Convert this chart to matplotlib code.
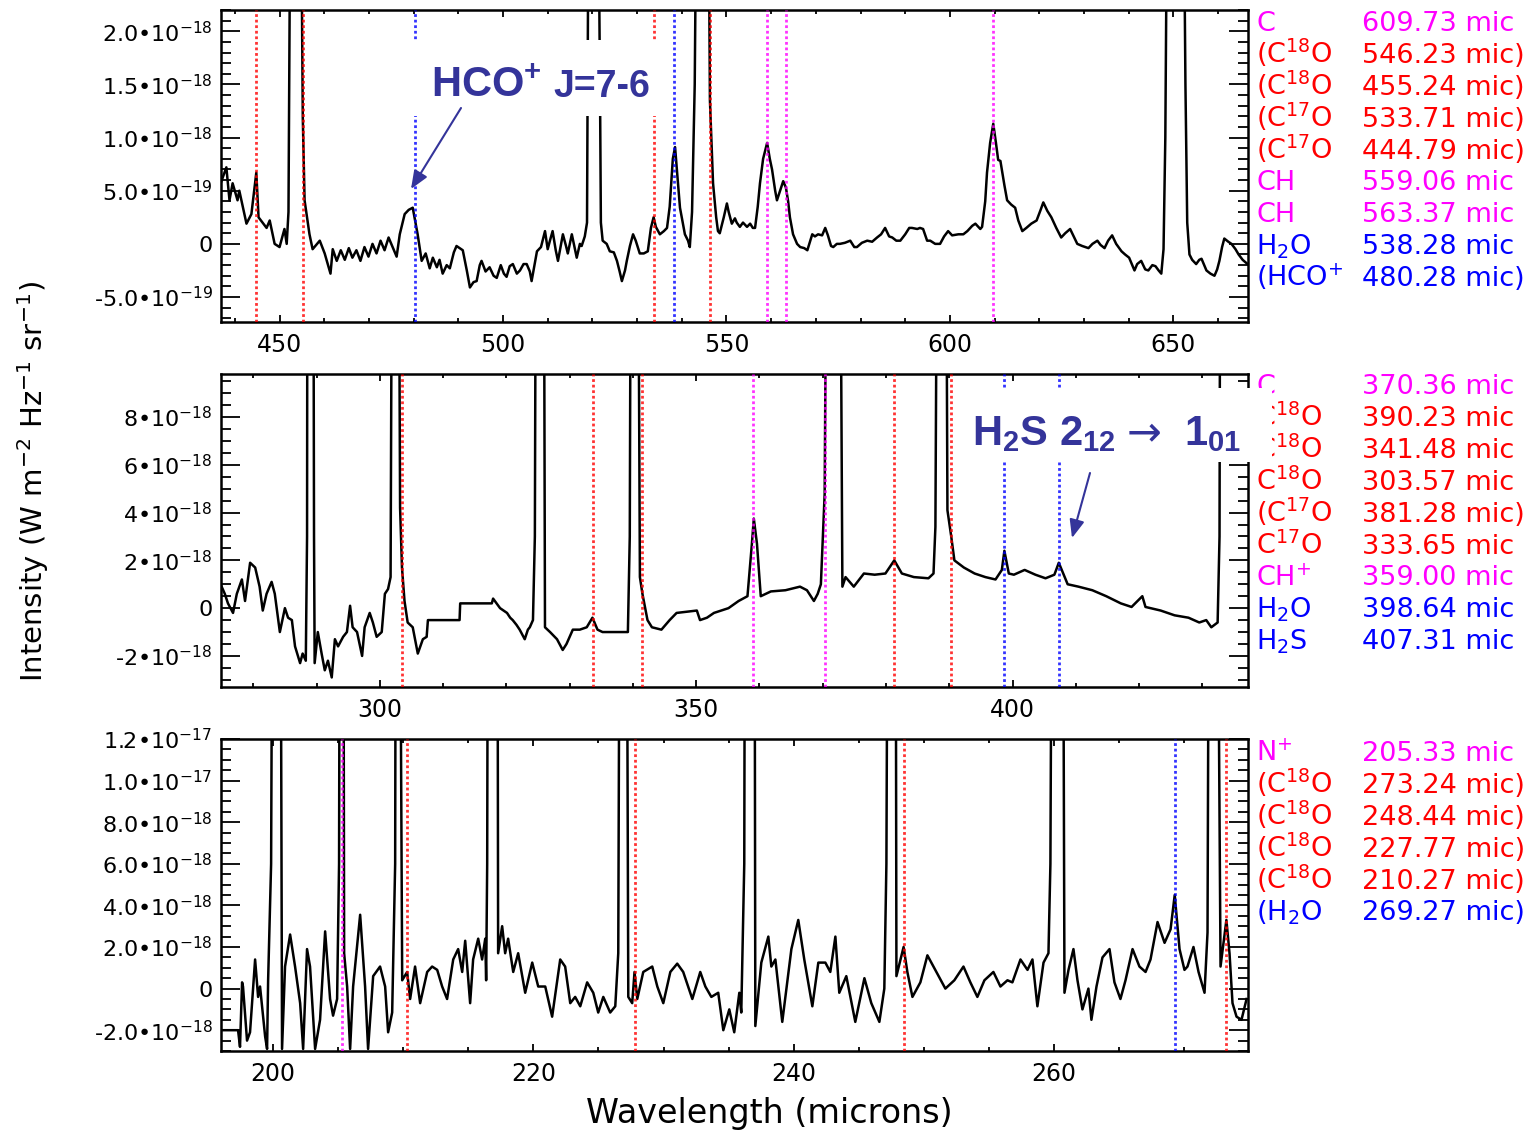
import matplotlib
matplotlib.use('Agg')
import numpy as np
import matplotlib.pyplot as plt
from matplotlib.patches import Rectangle, FancyArrowPatch, ArrowStyle
from matplotlib.ticker import MultipleLocator

plt.rcParams['font.family'] = ['DejaVu Sans']
plt.rcParams['mathtext.default'] = 'regular'

# ------------------------------------------------------------------ data
# spectra: (wavelength [micron], intensity) ; intensity units given per panel
top_spectrum = [  # units of 1e-19 W m-2 Hz-1 sr-1
    (437.0, 5.9), (438.1, 7.2), (438.8, 4.1), (439.5, 5.7), (440.6, 4.1), (441.0, 5.0), (442.6, 1.9),
    (443.7, 2.8), (444.8, 6.7), (445.3, 2.5), (447.1, 1.5), (447.8, 2.2), (448.9, 0.0), (450.0, -0.3),
    (451.1, 1.4), (451.6, 0.0), (452.0, 3.0), (452.5, 40), (454.7, 40), (455.2, 11.9), (455.6, 4.1),
    (456.7, 0.9), (457.4, -0.5), (459.0, 0.3), (460.1, -0.9), (461.4, -2.8), (461.9, -0.5), (462.8, -1.6),
    (463.7, -0.6), (464.6, -1.5), (465.5, -0.4), (466.3, -1.3), (467.2, -0.6), (468.1, -1.6), (469.0, -0.3),
    (469.9, -1.2), (470.8, 0.0), (471.7, -0.9), (472.6, 0.3), (473.5, -0.6), (474.4, 0.6), (475.3, -0.3),
    (476.2, -1.2), (476.9, 0.9), (478.0, 2.8), (478.9, 3.2), (479.8, 3.4), (480.9, 0.9), (481.8, -1.6),
    (482.7, -0.9), (483.6, -2.3), (484.3, -1.3), (485.2, -2.2), (485.8, -1.5), (486.5, -2.8), (487.4, -2.0),
    (488.1, -2.3), (489.0, -0.8), (489.6, -0.2), (490.3, -0.4), (491.0, -0.6), (491.9, -2.5), (492.6, -4.1),
    (493.4, -3.6), (494.1, -3.5), (494.8, -2.0), (495.2, -1.6), (496.1, -2.6), (497.0, -2.2), (497.9, -3.0),
    (498.6, -3.2), (499.5, -2.0), (500.2, -2.8), (500.8, -3.1), (501.5, -2.1), (502.2, -1.9), (503.1, -2.8),
    (503.8, -2.5), (504.6, -1.9), (505.3, -1.9), (506.0, -2.6), (506.4, -3.5), (507.6, -0.7), (508.5, -0.3),
    (509.4, 1.2), (510.0, -0.5), (510.5, 0.3), (511.1, 1.2), (511.8, -0.6), (512.3, -1.6), (513.4, 0.9),
    (514.1, -0.2), (514.5, -0.9), (515.4, 0.9), (516.1, -0.5), (516.5, -1.3), (517.2, 0.0), (517.6, -0.2),
    (518.3, 0.7), (518.8, 2.0), (519.2, 40), (521.2, 40), (521.7, 15), (521.9, 2.0), (522.3, 0.3),
    (523.2, 0.0), (523.9, -0.7), (524.8, -0.8), (525.5, -1.6), (526.1, -2.6), (526.6, -3.5), (527.3, -2.5),
    (527.7, -1.6), (528.4, -0.2), (529.1, 0.9), (529.7, 0.3), (530.6, -0.9), (531.5, -0.9), (532.4, -0.7),
    (533.1, 1.5), (533.7, 2.5), (534.2, 1.6), (535.1, 0.9), (536.0, 1.2), (536.7, 1.5), (537.3, 3.5),
    (538.0, 8.0), (538.5, 9.1), (539.1, 6.0), (539.6, 3.4), (540.7, 0.9), (541.4, 0.3), (541.8, -0.3),
    (542.3, 3.0), (542.9, 15.0), (543.4, 40), (545.9, 40), (546.3, 13.5), (547.0, 5.7), (547.7, 2.5),
    (548.1, 1.2), (548.5, 1.0), (549.4, 2.5), (550.1, 3.8), (550.5, 3.0), (551.2, 1.9), (551.9, 2.4),
    (552.3, 2.0), (553.0, 1.6), (553.7, 2.0), (554.6, 1.6), (555.3, 1.9), (555.9, 1.5), (556.4, 1.5),
    (557.0, 3.5), (557.5, 5.7), (558.2, 8.0), (559.1, 9.5), (559.7, 8.0), (560.2, 7.0), (560.9, 5.0),
    (561.3, 4.1), (562.0, 5.0), (562.7, 5.9), (563.3, 5.3), (563.8, 4.0), (564.2, 2.5), (564.9, 0.9),
    (565.8, 0.0), (566.5, -0.3), (567.4, -0.4), (568.1, -0.6), (568.7, 0.2), (569.2, 0.9), (569.8, 0.7),
    (570.5, 0.9), (571.4, 0.8), (572.1, 1.5), (572.7, 0.8), (573.4, -0.2), (573.9, -0.3), (574.7, 0.0),
    (575.4, 0.0), (576.5, 0.1), (577.7, 0.3), (578.6, -0.3), (579.2, -0.3), (580.3, 0.1), (581.5, 0.3),
    (582.6, 0.2), (583.7, 0.6), (584.6, 0.9), (585.5, 1.5), (586.4, 0.7), (587.1, 0.6), (588.0, 0.3),
    (588.9, 0.3), (590.0, 0.9), (590.9, 1.5), (591.5, 1.5), (592.7, 1.4), (593.3, 1.5), (594.0, 1.4),
    (594.9, 0.3), (595.6, 0.3), (596.7, 0.0), (597.8, 0.0), (598.7, 0.7), (599.6, 1.2), (600.5, 0.8),
    (601.9, 0.9), (603.0, 0.9), (603.9, 1.2), (605.0, 1.7), (605.7, 1.9), (606.8, 1.4), (607.2, 1.6),
    (607.9, 4.0), (608.3, 6.7), (609.0, 9.5), (609.7, 11.3), (610.3, 9.5), (610.8, 7.9), (611.3, 7.8),
    (612.2, 5.5), (612.8, 4.1), (613.7, 3.7), (614.6, 3.4), (615.3, 2.2), (616.2, 1.2), (617.1, 1.5),
    (618.2, 1.9), (619.4, 2.2), (620.3, 3.2), (620.9, 3.9), (621.8, 3.1), (622.7, 2.5), (623.8, 1.5),
    (624.9, 0.6), (625.8, 1.0), (626.9, 1.4), (627.8, 0.6), (628.5, 0.0), (629.6, -0.2), (631.0, -0.4),
    (631.9, 0.0), (633.0, 0.3), (633.7, -0.1), (634.6, -0.4), (635.4, 0.3), (636.3, 0.8), (637.2, 0.0),
    (638.4, -0.7), (639.2, -1.0), (640.1, -1.3), (641.3, -2.5), (641.9, -1.9), (642.8, -1.6), (643.7, -2.4),
    (644.4, -2.5), (645.3, -2.0), (646.0, -2.1), (646.7, -2.5), (647.3, -2.8), (647.8, -0.5), (648.2, 10),
    (648.7, 40), (652.2, 40), (652.7, 15), (653.1, 2.0), (653.6, -1.0), (654.2, -1.5), (655.1, -1.9),
    (655.8, -1.5), (656.3, -1.4), (656.9, -2.0), (657.4, -2.5), (658.3, -2.8), (659.2, -3.0), (659.8, -2.4),
    (660.3, -1.6), (660.9, -0.3), (661.4, 0.5), (662.3, 0.2), (663.0, 0.0), (663.9, -0.5), (664.6, -1.0),
    (665.5, -1.5), (666.6, -1.9),
]

mid_spectrum = [  # units of 1e-18
    (275.0, 0.9), (275.5, 0.6), (276.0, 0.2), (276.8, -0.2), (277.4, 0.6), (278.2, 1.2), (278.7, 0.3),
    (279.5, 1.9), (280.3, 1.7), (281.0, 0.9), (281.5, -0.1), (282.1, 0.6), (282.9, 1.1), (283.4, 0.6),
    (284.2, -1.0), (285.0, 0.0), (285.5, -0.4), (286.1, -0.5), (286.6, -1.6), (287.4, -2.3), (287.8, -1.9),
    (288.3, -2.2), (288.5, 3.0), (288.6, 30), (289.4, 30), (289.6, 3.0), (289.7, -2.3), (290.2, -1.0),
    (290.8, -1.9), (291.3, -2.6), (291.8, -2.2), (292.4, -2.9), (292.9, -1.3), (293.4, -1.6), (294.2, -1.2),
    (294.8, -1.0), (295.3, 0.1), (295.7, -0.8), (296.4, -1.0), (297.2, -2.0), (297.6, -0.8), (298.4, -0.2),
    (298.9, -0.6), (299.5, -1.2), (300.3, -1.0), (300.8, 0.6), (301.3, 0.8), (301.7, 1.3), (302.1, 30),
    (302.8, 30), (303.2, 4.2), (303.5, 1.7), (303.9, 0.3), (304.4, -0.6), (305.2, -0.8), (306.0, -1.9),
    (306.8, -1.3), (307.4, -1.2), (307.6, -0.5), (312.6, -0.5), (312.7, 0.2), (317.7, 0.2), (317.9, 0.4),
    (319.0, 0.0), (320.1, -0.2), (320.6, -0.4), (321.0, -0.5), (321.6, -0.7), (322.1, -0.9), (322.9, -1.3),
    (323.4, -0.9), (323.7, -0.8), (324.2, -0.5), (324.5, 3.0), (324.8, 30), (325.8, 30), (326.1, -0.8),
    (326.9, -1.0), (328.0, -1.3), (328.9, -1.75), (329.5, -1.5), (330.5, -0.9), (331.6, -0.9),
    (332.7, -0.8), (333.6, -0.4), (334.4, -0.9), (335.2, -1.0), (336.8, -1.0), (339.2, -1.0), (339.5, 3.0),
    (339.8, 30), (340.6, 30), (341.1, 1.3), (341.5, 0.6), (342.3, -0.5), (343.0, -0.8), (344.5, -0.9),
    (345.8, -0.5), (346.9, -0.2), (350.1, -0.1), (350.6, -0.5), (351.7, -0.4), (352.8, -0.2), (355.1, 0.0),
    (356.7, 0.3), (358.1, 0.5), (358.8, 2.7), (359.1, 3.75), (359.6, 2.7), (360.2, 0.5), (361.8, 0.7),
    (364.1, 0.75), (366.4, 0.9), (367.5, 0.75), (368.6, 0.3), (369.2, 0.6), (369.7, 1.0), (370.3, 4.8),
    (370.9, 30), (372.5, 30), (373.1, 0.9), (373.6, 1.3), (374.9, 0.9), (376.5, 1.45), (378.2, 1.4),
    (379.9, 1.45), (381.3, 2.0), (382.5, 1.45), (384.4, 1.3), (386.7, 1.25), (387.5, 1.45), (387.8, 3.4),
    (388.3, 30), (389.3, 30), (389.7, 4.1), (390.3, 3.0), (390.8, 2.0), (392.3, 1.7), (394.0, 1.45),
    (395.7, 1.3), (397.3, 1.2), (398.3, 1.6), (398.7, 2.4), (399.4, 1.45), (400.2, 1.4), (401.9, 1.6),
    (403.6, 1.4), (405.2, 1.25), (406.6, 1.4), (407.3, 1.9), (408.7, 1.0), (410.4, 0.9), (412.6, 0.75),
    (414.8, 0.5), (417.1, 0.2), (418.8, 0.05), (420.5, 0.5), (421.0, 0.05), (423.4, -0.1), (425.6, -0.3),
    (427.8, -0.4), (429.5, -0.6), (430.6, -0.5), (431.4, -0.8), (432.4, -0.6), (432.7, 3.0), (432.9, 30),
    (437.2, 30),
]

bot_spectrum = [  # units of 1e-18
    (196.08, -2.0), (197.31, -2.0), (197.46, -2.8), (197.62, 0.3), (197.69, 0.1), (198.00, -2.5),
    (198.23, -2.1), (198.62, 1.4), (198.85, -0.4), (199.00, 0.1), (199.39, -2.3), (199.54, -2.9),
    (199.62, 0.4), (199.85, 6.0), (200.00, 30), (200.54, 30), (200.69, -2.9), (200.92, 1.06),
    (201.31, 2.6), (201.69, 1.06), (202.08, -0.7), (202.31, -2.9), (202.61, 1.9), (202.84, 1.06),
    (203.23, -2.9), (203.61, -1.5), (204.00, 2.75), (204.38, -0.5), (204.61, -1.3), (204.92, -0.5),
    (205.07, 6.0), (205.15, 30), (205.38, 30), (205.46, 1.7), (205.69, 0.1), (205.92, -2.9), (206.15, 0.1),
    (206.69, 3.55), (207.07, 0.1), (207.30, -2.9), (207.69, 0.6), (208.22, 1.06), (208.61, 0.1),
    (208.84, -2.1), (209.15, -1.15), (209.38, 6.0), (209.45, 30), (209.68, 30), (209.92, 0.4),
    (210.30, 0.8), (210.53, -0.5), (210.91, 1.06), (211.30, -0.7), (211.84, 0.8), (212.22, 1.06),
    (212.61, 0.9), (212.99, 0.1), (213.37, -0.5), (213.84, 1.4), (214.22, 1.9), (214.53, 0.8),
    (214.76, 2.3), (215.14, -0.7), (215.37, 1.4), (215.76, 2.4), (216.06, 1.4), (216.30, 2.4),
    (216.37, 0.4), (216.45, 6.0), (216.53, 30), (217.22, 30), (217.29, 1.7), (217.60, 3.0), (217.83, 1.7),
    (218.06, 2.4), (218.45, 0.8), (218.83, 1.7), (219.37, -0.2), (219.91, 1.25), (220.37, 0.1),
    (220.91, 0.1), (221.44, -1.35), (222.06, 1.4), (222.44, 1.06), (222.83, -0.7), (223.21, -0.4),
    (223.60, -0.85), (224.13, 0.3), (224.60, -0.2), (224.98, -1.15), (225.37, -0.4), (225.90, -1.15),
    (226.29, -0.85), (226.52, 1.7), (226.67, 30), (227.13, 30), (227.29, -0.4), (227.59, -0.7),
    (227.77, 0.8), (227.98, -0.5), (228.44, 0.8), (229.13, 1.06), (229.52, 0.1), (229.98, -0.7),
    (230.52, 0.8), (231.05, 1.2), (231.51, 0.8), (232.21, -0.5), (232.82, 0.8), (233.21, 0.1),
    (233.67, -0.4), (234.20, -0.2), (234.59, -2.0), (235.05, -1.0), (235.43, -2.1), (235.82, -0.2),
    (235.97, -1.15), (236.20, 6.0), (236.28, 30), (236.97, 30), (237.05, -1.8), (237.51, 1.25),
    (238.05, 2.5), (238.28, 1.06), (238.59, 1.4), (239.12, -1.6), (239.82, 1.9), (240.35, 3.3),
    (240.81, 1.4), (241.43, -0.85), (241.89, 1.25), (242.43, 1.25), (242.81, 0.8), (243.20, 2.5),
    (243.50, -0.2), (244.04, 0.6), (244.73, -1.6), (245.43, 0.5), (245.96, -0.7), (246.58, -1.6),
    (246.96, 0.0), (247.12, 6.0), (247.27, 30), (247.81, 30), (247.89, 0.6), (248.44, 2.0),
    (248.73, 0.8), (249.12, -0.4), (249.73, 0.3), (250.27, 1.6), (250.96, 0.8), (251.65, 0.0),
    (252.34, 0.4), (253.04, 1.06), (253.57, 0.3), (254.11, -0.4), (254.65, 0.4), (255.34, 0.8),
    (255.88, 0.1), (256.42, 0.4), (256.80, 0.3), (257.42, 1.4), (257.96, 0.9), (258.34, 1.4),
    (258.72, -0.85), (259.19, 1.25), (259.57, 1.7), (259.72, 6.0), (259.88, 30), (260.65, 30),
    (260.80, -0.2), (261.11, 0.9), (261.49, 1.9), (261.80, 0.4), (262.18, -1.0), (262.64, 0.0),
    (262.87, -1.5), (263.26, 0.1), (263.72, 1.5), (264.26, 1.9), (264.64, 0.3), (265.10, -0.5),
    (265.49, 0.4), (266.03, 1.9), (266.56, 1.06), (267.03, 0.8), (267.41, 1.4), (267.95, 3.2),
    (268.49, 2.2), (268.95, 2.85), (269.27, 4.5), (269.64, 1.9), (270.02, 0.9), (270.25, 1.06),
    (270.71, 2.0), (271.10, 0.8), (271.56, -0.2), (271.79, 2.7), (271.94, 30), (272.48, 30),
    (272.79, 1.06), (273.24, 3.3), (273.48, 1.7), (273.71, -0.7), (274.02, -1.35), (274.40, -1.5),
    (274.79, -0.5),
]

# identified lines: species label, rest wavelength (micron), colour group, tentative?
top_species = ['C', '(C$^{18}$O', '(C$^{18}$O', '(C$^{17}$O', '(C$^{17}$O', 'CH', 'CH', 'H$_{2}$O', '(HCO$^{+}$']
top_lines = [609.73, 546.23, 455.24, 533.71, 444.79, 559.06, 563.37, 538.28, 480.28]
top_groups = ['m', 'r', 'r', 'r', 'r', 'm', 'm', 'b', 'b']
top_tentative = [False, True, True, True, True, False, False, False, True]

mid_species = ['C', 'C$^{18}$O', 'C$^{18}$O', 'C$^{18}$O', '(C$^{17}$O', 'C$^{17}$O', 'CH$^{+}$', 'H$_{2}$O', 'H$_{2}$S']
mid_lines = [370.36, 390.23, 341.48, 303.57, 381.28, 333.65, 359.00, 398.64, 407.31]
mid_groups = ['m', 'r', 'r', 'r', 'r', 'r', 'm', 'b', 'b']
mid_tentative = [False, False, False, False, True, False, False, False, False]

bot_species = ['N$^{+}$', '(C$^{18}$O', '(C$^{18}$O', '(C$^{18}$O', '(C$^{18}$O', '(H$_{2}$O']
bot_lines = [205.33, 273.24, 248.44, 227.77, 210.27, 269.27]
bot_groups = ['m', 'r', 'r', 'r', 'r', 'b']
bot_tentative = [False, True, True, True, True, True]

top_xticks = [450, 500, 550, 600, 650]
mid_xticks = [300, 350, 400]
bot_xticks = [200, 220, 240, 260]
top_yticks = [-5e-19, 0, 5e-19, 1e-18, 1.5e-18, 2e-18]
top_yticklabels = ['-5.0•10$^{-19}$', '0', '5.0•10$^{-19}$', '1.0•10$^{-18}$', '1.5•10$^{-18}$', '2.0•10$^{-18}$']
mid_yticks = [-2e-18, 0, 2e-18, 4e-18, 6e-18, 8e-18]
mid_yticklabels = ['-2•10$^{-18}$', '0', '2•10$^{-18}$', '4•10$^{-18}$', '6•10$^{-18}$', '8•10$^{-18}$']
bot_yticks = [-2e-18, 0, 2e-18, 4e-18, 6e-18, 8e-18, 1e-17, 1.2e-17]
bot_yticklabels = ['-2.0•10$^{-18}$', '0', '2.0•10$^{-18}$', '4.0•10$^{-18}$', '6.0•10$^{-18}$',
                   '8.0•10$^{-18}$', '1.0•10$^{-17}$', '1.2•10$^{-17}$']

# ------------------------------------------------------------------ styling
GROUP_COLORS = {'m': '#ff00ff', 'r': '#ff0000', 'b': '#0000ff'}
ANNOT_COLOR = '#34349a'
W, H = 1531, 1136

fig = plt.figure(figsize=(W / 100, H / 100), dpi=100)


def fx(px):
    return px / W


def fy(py):
    return 1 - py / H


def px_rect(l, t, r, b):
    return [l / W, 1 - b / H, (r - l) / W, (b - t) / H]


panels = [
    dict(rect=px_rect(221, 10, 1248, 322), spec=top_spectrum, unit=1e-19,
         xlim=(436.9, 666.7), ylim=(-7.35e-19, 2.2e-18), xticks=top_xticks, xminor=10,
         yticks=top_yticks, ylabels=top_yticklabels, yminor=1e-19,
         species=top_species, lines=top_lines, groups=top_groups, tent=top_tentative, leg_top=31),
    dict(rect=px_rect(221, 374, 1248, 687), spec=mid_spectrum, unit=1e-18,
         xlim=(274.9, 437.2), ylim=(-3.3e-18, 9.8e-18), xticks=mid_xticks, xminor=10,
         yticks=mid_yticks, ylabels=mid_yticklabels, yminor=5e-19,
         species=mid_species, lines=mid_lines, groups=mid_groups, tent=mid_tentative, leg_top=394),
    dict(rect=px_rect(221, 739, 1248, 1051), spec=bot_spectrum, unit=1e-18,
         xlim=(196.0, 274.9), ylim=(-3.0e-18, 1.2e-17), xticks=bot_xticks, xminor=5,
         yticks=bot_yticks, ylabels=bot_yticklabels, yminor=5e-19,
         species=bot_species, lines=bot_lines, groups=bot_groups, tent=bot_tentative, leg_top=761),
]

ROW = 31.9
for p in panels:
    ax = fig.add_axes(p['rect'])
    wave = np.array([w for w, _ in p['spec']])
    flux = np.array([f for _, f in p['spec']]) * p['unit']
    ax.plot(wave, flux, color='black', lw=1.8, zorder=2)
    for lam, g in zip(p['lines'], p['groups']):
        ax.axvline(lam, color=GROUP_COLORS[g], lw=2.0, ls=(0, (1.0, 1.0)), zorder=3, alpha=0.8)
    ax.set_xlim(*p['xlim'])
    ax.set_ylim(*p['ylim'])
    ax.set_xticks(p['xticks'])
    ax.xaxis.set_minor_locator(MultipleLocator(p['xminor']))
    ax.set_yticks(p['yticks'], labels=p['ylabels'])
    ax.yaxis.set_minor_locator(MultipleLocator(p['yminor']))
    ax.tick_params(which='both', direction='in', top=True, right=True, width=1.3)
    ax.tick_params(axis='x', which='major', length=5, labelsize=17, pad=8)
    ax.tick_params(axis='x', which='minor', length=3)
    ax.tick_params(axis='y', which='major', length=14, labelsize=16, pad=6)
    ax.tick_params(axis='y', which='minor', length=7)
    for s in ax.spines.values():
        s.set_linewidth(1.8)
    # line list to the right of the panel
    for i, (name, lam, g, t) in enumerate(zip(p['species'], p['lines'], p['groups'], p['tent'])):
        yb = p['leg_top'] + i * ROW
        col = GROUP_COLORS[g]
        fig.text(fx(1256), fy(yb), name, color=col, fontsize=19.5, va='baseline', ha='left', zorder=5)
        fig.text(fx(1362), fy(yb), f'{lam:.2f} mic' + (')' if t else ''), color=col,
                 fontsize=19.5, va='baseline', ha='left', zorder=5)

fig.text(fx(33), fy(482), 'Intensity (W m$^{-2}$ Hz$^{-1}$ sr$^{-1}$)', rotation=90,
         fontsize=21, ha='center', va='center')
fig.text(fx(769), fy(1113), 'Wavelength (microns)', fontsize=24, ha='center', va='center')

# ------------------------------------------------------------------ annotations
bold_big = dict(family=['Liberation Sans', 'DejaVu Sans'], weight='bold', size=30)
bold_mid = dict(family=['Liberation Sans', 'DejaVu Sans'], weight='bold', size=27)
for (l, t, r, b) in [(408, 40, 668, 116), (958, 388, 1272, 462)]:
    fig.add_artist(Rectangle((fx(l), fy(b)), (r - l) / W, (b - t) / H, transform=fig.transFigure,
                             facecolor='white', edgecolor='none', zorder=10))
fig.text(fx(431), fy(97), 'HCO$^{+}$', color=ANNOT_COLOR, fontdict=bold_big,
         ha='left', va='baseline', zorder=11)
fig.text(fx(553), fy(97), 'J=7-6', color=ANNOT_COLOR, fontdict=bold_mid,
         ha='left', va='baseline', zorder=11)
fig.text(fx(972), fy(445), 'H$_{2}$S 2$_{12}$', color=ANNOT_COLOR, fontdict=bold_big,
         ha='left', va='baseline', zorder=11)
fig.text(fx(1127), fy(445), '→', color=ANNOT_COLOR, family='DejaVu Sans', size=30,
         ha='left', va='baseline', zorder=11)
fig.text(fx(1184), fy(445), '1$_{01}$', color=ANNOT_COLOR, fontdict=bold_big,
         ha='left', va='baseline', zorder=11)

style = ArrowStyle('-|>', head_length=1.1, head_width=0.45)
for (x0, y0, x1, y1) in [(461, 108, 411, 189), (1090, 473, 1072, 538)]:
    fig.add_artist(FancyArrowPatch((fx(x0), fy(y0)), (fx(x1), fy(y1)), transform=fig.transFigure,
                                   arrowstyle=style, mutation_scale=10, lw=1.5, color=ANNOT_COLOR,
                                   shrinkA=0, shrinkB=0, zorder=11))

fig.savefig('out.png', dpi=100)
